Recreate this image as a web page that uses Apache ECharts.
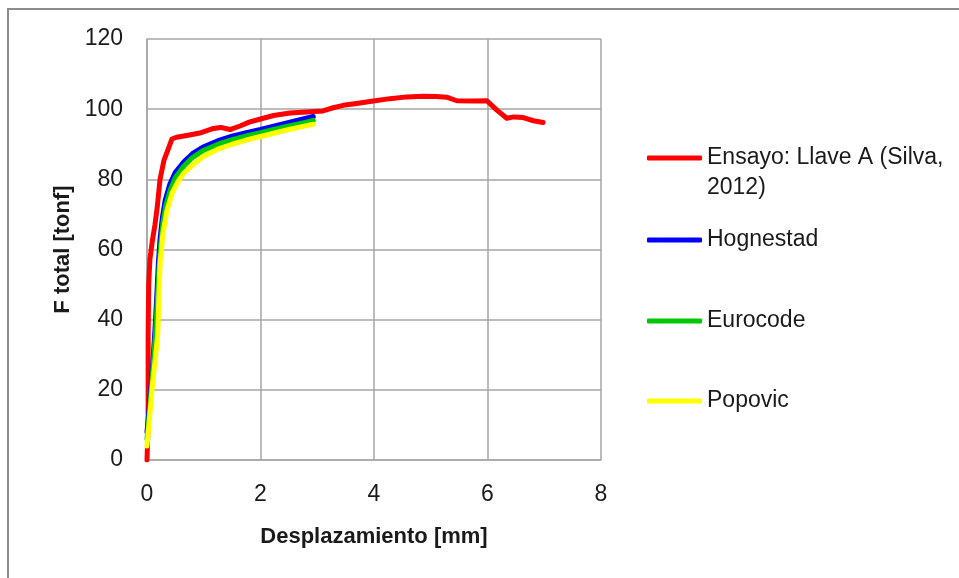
<!DOCTYPE html>
<html>
<head>
<meta charset="utf-8">
<script src="https://cdn.jsdelivr.net/npm/echarts@6/dist/echarts.min.js"></script>
<style>
  html, body { margin: 0; padding: 0; background: #fff; }
  #chart { width: 959px; height: 578px; }
</style>
</head>
<body>
<div id="chart"></div>
<script>
// Load test (Silva, 2012) versus three concrete models: [displacement mm, force tonf]
const seriesNames = ['Ensayo: Llave A (Silva, 2012)', 'Hognestad', 'Eurocode', 'Popovic'];

const ensayo = [
  [0, 0], [0.02, 10], [0.02, 35], [0.03, 50], [0.05, 57], [0.09, 62], [0.14, 67],
  [0.18, 72], [0.23, 80], [0.3, 85.5], [0.36, 88], [0.44, 91.5], [0.52, 92],
  [0.7, 92.5], [0.93, 93.2], [1.17, 94.5], [1.3, 94.8], [1.46, 94.2], [1.64, 95.2],
  [1.8, 96.3], [2.0, 97.2], [2.23, 98.2], [2.52, 98.9], [2.81, 99.2], [3.1, 99.5],
  [3.28, 100.4], [3.46, 101.1], [3.69, 101.6], [3.99, 102.3], [4.28, 103],
  [4.58, 103.5], [4.87, 103.7], [5.1, 103.6], [5.28, 103.4], [5.46, 102.4],
  [5.75, 102.3], [5.99, 102.4], [6.16, 99.8], [6.34, 97.4], [6.46, 97.8],
  [6.63, 97.6], [6.81, 96.7], [6.98, 96.2]
];

const hognestad = [
  [0, 8], [0.05, 17], [0.1, 27], [0.14, 37], [0.17, 46], [0.2, 56], [0.23, 63],
  [0.27, 69], [0.32, 74], [0.4, 78.5], [0.5, 82], [0.65, 85], [0.8, 87.3],
  [1.0, 89.3], [1.25, 91], [1.5, 92.3], [1.75, 93.3], [2.0, 94.2], [2.25, 95.2],
  [2.5, 96.2], [2.75, 97.2], [2.93, 97.9]
];

const eurocode = [
  [0, 6], [0.05, 15], [0.1, 25], [0.15, 36], [0.18, 45], [0.21, 54], [0.24, 61],
  [0.28, 67.5], [0.33, 72.5], [0.41, 77], [0.5, 80.5], [0.65, 83.8], [0.8, 86.2],
  [1.0, 88.3], [1.25, 90], [1.5, 91.3], [1.75, 92.4], [2.0, 93.3], [2.25, 94.3],
  [2.5, 95.2], [2.75, 96.1], [2.93, 96.8]
];

const popovic = [
  [0, 4], [0.05, 13], [0.1, 22], [0.16, 31], [0.19, 36], [0.21, 47], [0.23, 56],
  [0.28, 64.5], [0.35, 71], [0.44, 76], [0.55, 79.5], [0.65, 81.8], [0.84, 84.6],
  [1.0, 86.6], [1.25, 88.6], [1.5, 90], [1.75, 91.2], [2.0, 92.2], [2.25, 93.2],
  [2.5, 94.2], [2.75, 95.1], [2.93, 95.7]
];

const seriesData = [ensayo, hognestad, eurocode, popovic];
const seriesColors = ['#ff0000', '#0000ff', '#00c800', '#ffff00'];

const FONT = 'Liberation Sans';
const TEXT = '#1a1a1a';
const GRID = '#a6a6a6';

// one legend block per series so each entry sits at its own height
const legendTops = [113, 225, 306, 386];
const legends = seriesNames.map((name, i) => ({
  data: [name],
  left: 647,
  top: legendTops[i],
  padding: 0,
  orient: 'vertical',
  selectedMode: false,
  icon: 'roundRect',
  itemWidth: 55,
  itemHeight: 5,
  itemStyle: { color: seriesColors[i] },
  textStyle: { fontFamily: FONT, fontSize: 23, color: TEXT, lineHeight: 30 },
  formatter: n => (i === 0 ? '\nEnsayo: Llave A (Silva,\n2012)' : n)
}));

const chart = echarts.init(document.getElementById('chart'), null, { renderer: 'canvas' });
chart.setOption({
  animation: false,
  backgroundColor: '#fff',
  textStyle: { fontFamily: FONT },
  graphic: [{
    type: 'rect',
    shape: { x: 8, y: 9, width: 1200, height: 800 },
    style: { fill: 'none', stroke: '#8c8c8c', lineWidth: 2 },
    silent: true
  }],
  grid: { left: 147, top: 39, width: 454, height: 421, containLabel: false },
  legend: legends,
  xAxis: {
    type: 'value', min: 0, max: 8, interval: 2,
    name: 'Desplazamiento [mm]', nameLocation: 'middle', nameGap: 66,
    nameTextStyle: { fontFamily: FONT, fontSize: 22, fontWeight: 'bold', color: TEXT },
    axisLine: { show: true, lineStyle: { color: GRID, width: 1.5 } },
    axisTick: { show: false },
    axisLabel: { margin: 23, fontFamily: FONT, fontSize: 23, color: TEXT },
    splitLine: { show: true, lineStyle: { color: GRID, width: 1.5 } }
  },
  yAxis: {
    type: 'value', min: 0, max: 120, interval: 20,
    name: 'F total [tonf]', nameLocation: 'middle', nameGap: 73, nameRotate: 90,
    nameTextStyle: { fontFamily: FONT, fontSize: 22, fontWeight: 'bold', color: TEXT },
    axisLine: { show: true, lineStyle: { color: GRID, width: 1.5 } },
    axisTick: { show: false },
    axisLabel: { margin: 24, fontFamily: FONT, fontSize: 23, color: TEXT },
    splitLine: { show: true, lineStyle: { color: GRID, width: 1.5 } }
  },
  series: seriesNames.map((name, i) => ({
    name,
    type: 'line',
    data: seriesData[i],
    showSymbol: false,
    symbol: 'none',
    lineStyle: { color: seriesColors[i], width: 5, cap: 'round', join: 'round' },
    itemStyle: { color: seriesColors[i] },
    z: 2 + i
  }))
});
</script>
</body>
</html>
